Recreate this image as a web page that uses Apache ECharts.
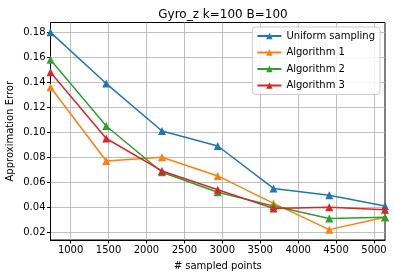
<!DOCTYPE html>
<html><head><meta charset="utf-8">
<script src="https://cdn.jsdelivr.net/npm/echarts@6/dist/echarts.min.js"></script>
<style>html,body{margin:0;padding:0;background:#fff}#c{width:395px;height:278px}</style>
</head><body><div id="c"></div>
<script>
const sampledPoints = [735, 1470, 2205, 2940, 3675, 4410, 5145];
const uniformSampling = [0.180, 0.139, 0.101, 0.089, 0.055, 0.0495, 0.041];
const algorithm1 = [0.136, 0.077, 0.080, 0.065, 0.043, 0.022, 0.032];
const algorithm2 = [0.158, 0.105, 0.068, 0.052, 0.041, 0.031, 0.032];
const algorithm3 = [0.148, 0.095, 0.069, 0.054, 0.039, 0.040, 0.038];
const xTicks = [1000, 1500, 2000, 2500, 3000, 3500, 4000, 4500, 5000];
const yTicks = [0.02, 0.04, 0.06, 0.08, 0.10, 0.12, 0.14, 0.16, 0.18];

const names = ['Uniform sampling', 'Algorithm 1', 'Algorithm 2', 'Algorithm 3'];
const colors = ['#1f77b4', '#ff7f0e', '#2ca02c', '#d62728'];
const values = [uniformSampling, algorithm1, algorithm2, algorithm3];
const font = 'DejaVu Sans';

const chart = echarts.init(document.getElementById('c'), null, {renderer: 'canvas'});
chart.setOption({
  animation: false,
  textStyle: {fontFamily: font},
  title: {text: 'Gyro_z k=100 B=100', left: 218, textAlign: 'center', top: 4,
    textStyle: {fontFamily: font, fontSize: 12, fontWeight: 'normal', color: '#000'}},
  grid: {left: 50.5, right: 10, top: 22.5, bottom: 38, show: true, borderColor: '#000', borderWidth: 1,
    backgroundColor: 'transparent', containLabel: false, outerBoundsMode: 'none'},
  legend: {
    orient: 'vertical', right: 15, top: 27, itemWidth: 24, itemHeight: 8, itemGap: 6.5,
    backgroundColor: 'rgba(255,255,255,0.85)', borderColor: '#ccc', borderWidth: 1, borderRadius: 3,
    padding: [4, 5, 4, 4],
    textStyle: {fontFamily: font, fontSize: 10, color: '#000', padding: [0, 0, 0, 0]},
    data: names
  },
  xAxis: {
    type: 'value', min: 735, max: 5145,
    name: '# sampled points', nameLocation: 'middle', nameGap: 21, nameMoveOverlap: false,
    nameTextStyle: {fontFamily: font, fontSize: 10, color: '#000'},
    axisLine: {show: true, lineStyle: {color: '#000', width: 1}},
    axisTick: {show: true, length: 3.5, customValues: xTicks, lineStyle: {color: '#000'}},
    axisLabel: {customValues: xTicks, fontFamily: font, fontSize: 10, color: '#000', margin: 5,
      formatter: v => String(v)},
    splitLine: {show: true, lineStyle: {color: '#b0b0b0', width: 0.8}}
  },
  yAxis: {
    type: 'value', min: 0.0137, max: 0.1879,
    name: 'Approximation Error', nameLocation: 'middle', nameGap: 35, nameMoveOverlap: false,
    nameTextStyle: {fontFamily: font, fontSize: 10, color: '#000'},
    axisLine: {show: true, lineStyle: {color: '#000', width: 1}},
    axisTick: {show: true, length: 3.5, customValues: yTicks, lineStyle: {color: '#000'}},
    axisLabel: {customValues: yTicks, fontFamily: font, fontSize: 10, color: '#000', margin: 5,
      formatter: v => v.toFixed(2)},
    splitLine: {show: true, lineStyle: {color: '#b0b0b0', width: 0.8}}
  },
  series: names.map((n, i) => ({
    name: n, type: 'line', data: sampledPoints.map((x, j) => [x, values[i][j]]),
    symbol: 'triangle', symbolSize: 8, showAllSymbol: true,
    lineStyle: {color: colors[i], width: 1.5},
    itemStyle: {color: colors[i]}, z: 2 + i
  }))
});
</script></body></html>
